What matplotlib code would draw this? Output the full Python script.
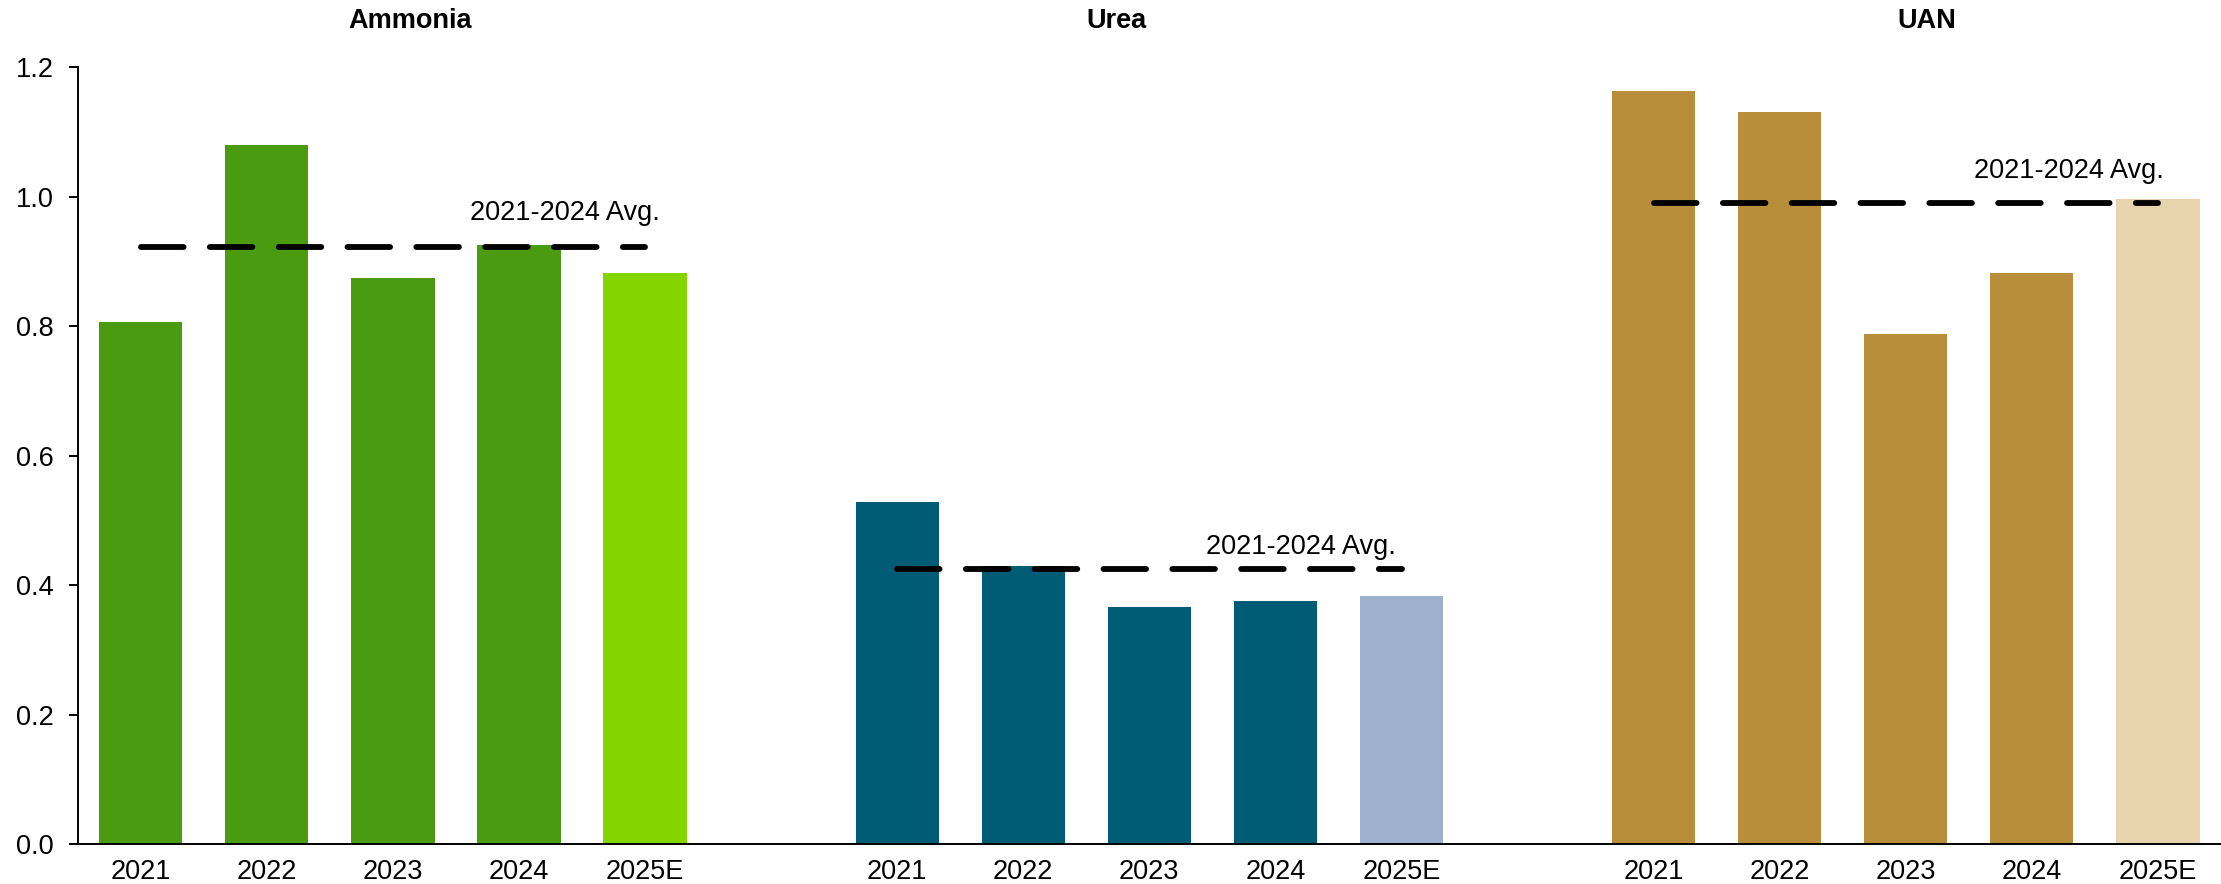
import matplotlib.pyplot as plt
import numpy as np

plt.rcParams['font.family'] = ['Liberation Sans', 'DejaVu Sans']

# values per product, 2021-2024 actual plus 2025 estimate
years = ['2021', '2022', '2023', '2024', '2025E']
products = ['Ammonia', 'Urea', 'UAN']
ammonia = [0.807, 1.080, 0.875, 0.926, 0.883]
urea = [0.529, 0.429, 0.366, 0.375, 0.383]
uan = [1.163, 1.131, 0.788, 0.883, 0.996]
series = [ammonia, urea, uan]

dark_colors = ['#4B9B11', '#005B74', '#B98E3B']
light_colors = ['#84D400', '#9DB0CE', '#E7D3AE']

# where the titles and avg labels sit (x in bar slots, label offset in points)
title_x = [2.14, 7.74, 14.17]
avg_label_dx = [2.61, 2.45, 2.54]
avg_label_dy = [19.4, 10.8, 18.0]

fig = plt.figure(figsize=(22.21, 8.84), dpi=100)
ax = fig.add_axes([0.035, 0.04525, 0.965, 0.8784])

xticks = []
xlabels = []
for i, vals in enumerate(series):
    x = 6 * i + np.arange(len(vals))
    colors = [dark_colors[i]] * 4 + [light_colors[i]]
    ax.bar(x, vals, width=0.66, color=colors, zorder=2)

    avg = np.mean(vals[:4])
    ax.plot([x[0], x[-1]], [avg, avg], color='black', lw=4.2,
            linestyle=(0, (7.3, 4.5)), dash_capstyle='round', zorder=3)
    ax.annotate('2021-2024 Avg.', xy=(x[0] + avg_label_dx[i], avg),
                xytext=(0, avg_label_dy[i]), textcoords='offset points',
                ha='left', va='baseline', fontsize=19.5)

    ax.text(title_x[i], 1.0509, products[i], transform=ax.get_xaxis_transform(),
            ha='center', va='baseline', fontsize=19.5, fontweight='bold',
            clip_on=False)

    xticks.extend(x)
    xlabels.extend(years)

ax.set_xlim(-0.5, 16.5)
ax.set_ylim(0, 1.2)
ax.set_yticks(np.arange(0, 1.21, 0.2))
ax.set_yticklabels(['%.1f' % v for v in np.arange(0, 1.21, 0.2)])
ax.set_xticks(xticks)
ax.set_xticklabels(xlabels)

ax.tick_params(axis='y', length=6.2, width=1.4, pad=11, labelsize=19.5)
ax.tick_params(axis='x', length=0, pad=10.5, labelsize=19.5)
for side in ['top', 'right']:
    ax.spines[side].set_visible(False)
for side in ['left', 'bottom']:
    ax.spines[side].set_linewidth(1.4)

fig.savefig('out.png', dpi=100)
